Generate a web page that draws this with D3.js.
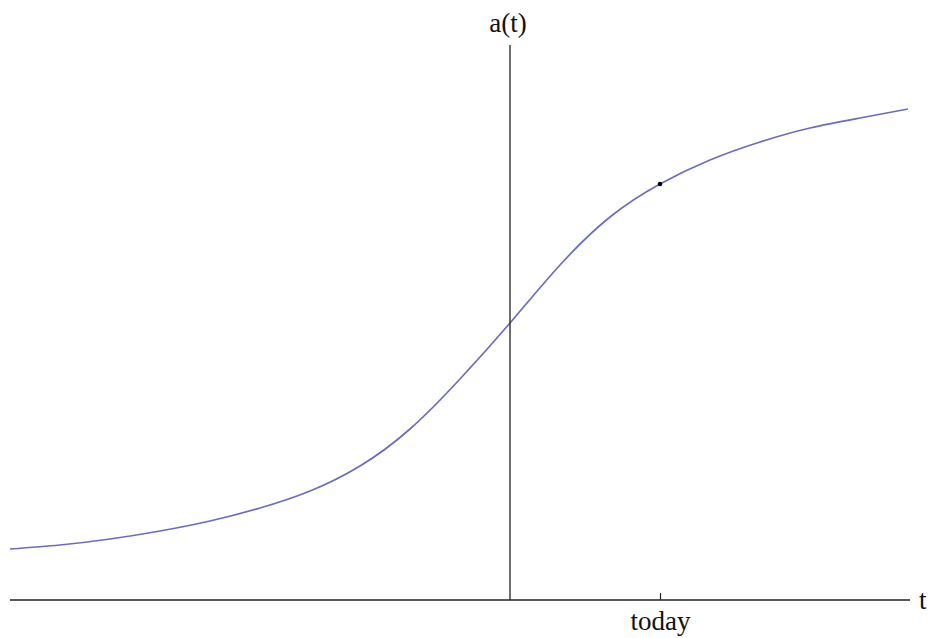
<!DOCTYPE html>
<html>
<head>
<meta charset="utf-8">
<script src="https://cdn.jsdelivr.net/npm/d3@7"></script>
<style>
  html, body { margin: 0; padding: 0; background: #fff; }
  svg { display: block; }
</style>
</head>
<body>
<svg id="chart" width="928" height="638"></svg>
<script>
/* ================================
   DATA
================================ */

// time (t) and scale factor a(t)
const tValues = [-5, -4.5, -4, -3.5, -3, -2.5, -2, -1.5, -1, -0.5, 0, 0.5, 1, 1.5, 2, 2.5, 3, 3.5, 3.98];
const aValues = [0.51, 0.55, 0.61, 0.69, 0.79, 0.92, 1.09, 1.34, 1.71, 2.21, 2.77, 3.35, 3.83, 4.16, 4.40, 4.58, 4.72, 4.82, 4.91];

const todayT = [1.5];
const todayA = [4.16];
const tickLabels = ["today"];

/* ================================
   CHART
================================ */

const svg = d3.select("#chart");

const x = d3.scaleLinear().domain([-5, 4]).range([10, 910]);
const y = d3.scaleLinear().domain([0, 5.55]).range([600, 45]);

const points = tValues.map((t, i) => ({ t: t, a: aValues[i] }));

// curve
const line = d3.line()
  .x(d => x(d.t))
  .y(d => y(d.a))
  .curve(d3.curveNatural);

svg.append("path")
  .datum(points)
  .attr("d", line)
  .attr("fill", "none")
  .attr("stroke", "#6b6bc2")
  .attr("stroke-width", 1.7);

// horizontal axis
svg.append("line")
  .attr("x1", x(-5)).attr("x2", x(4))
  .attr("y1", y(0)).attr("y2", y(0))
  .attr("stroke", "#222")
  .attr("stroke-width", 1.3);

// vertical axis
svg.append("line")
  .attr("x1", x(0)).attr("x2", x(0))
  .attr("y1", y(5.55)).attr("y2", y(0))
  .attr("stroke", "#222")
  .attr("stroke-width", 1.3);

// today tick
const xAxis = d3.axisBottom(x)
  .tickValues(todayT)
  .tickFormat((d, i) => tickLabels[i])
  .tickSizeInner(-7)
  .tickSizeOuter(0);

const gx = svg.append("g")
  .attr("transform", `translate(0,${y(0)})`)
  .call(xAxis);

gx.select(".domain").remove();
gx.selectAll(".tick line")
  .attr("stroke", "#222")
  .attr("stroke-width", 1.2);
gx.selectAll(".tick text")
  .attr("y", 30)
  .attr("dy", null)
  .style("font-family", "'Liberation Serif', 'Times New Roman', serif")
  .style("font-size", "27px")
  .attr("fill", "#111");

// today marker
svg.selectAll(".today-dot")
  .data(todayT)
  .join("circle")
  .attr("class", "today-dot")
  .attr("cx", d => x(d))
  .attr("cy", (d, i) => y(todayA[i]))
  .attr("r", 2.3)
  .attr("fill", "#000");

// axis labels
svg.append("text")
  .attr("x", x(0) - 2)
  .attr("y", 32)
  .attr("text-anchor", "middle")
  .style("font-family", "'Liberation Serif', 'Times New Roman', serif")
  .style("font-size", "27px")
  .attr("fill", "#111")
  .text("a(t)");

svg.append("text")
  .attr("x", 919)
  .attr("y", 609)
  .style("font-family", "'Liberation Serif', 'Times New Roman', serif")
  .style("font-size", "27px")
  .attr("fill", "#111")
  .text("t");
</script>
</body>
</html>
